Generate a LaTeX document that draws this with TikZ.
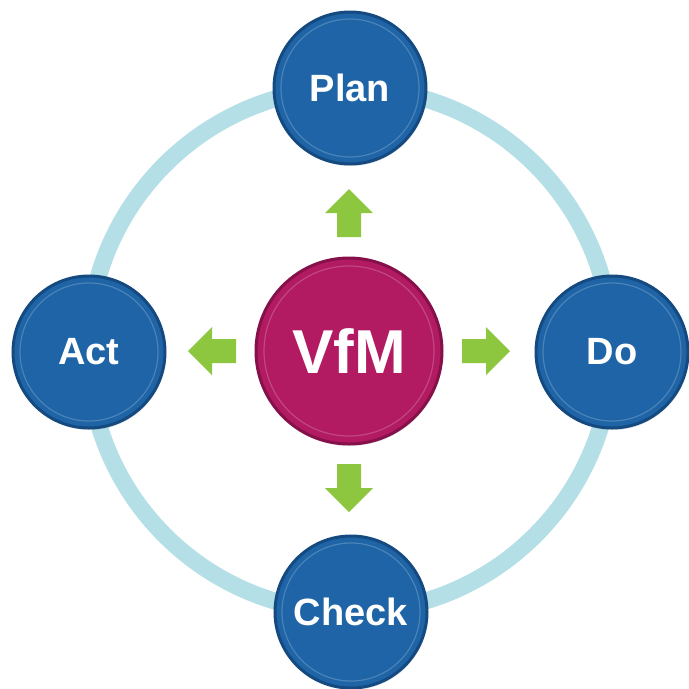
\documentclass[tikz,border=0pt]{standalone}
\usepackage{fontspec}
\setmainfont{Liberation Sans}
\usetikzlibrary{shadows}

\definecolor{ringblue}{HTML}{B5DFE6}
\definecolor{stepblue}{HTML}{1E64A6}
\definecolor{stepedge}{HTML}{154A80}
\definecolor{vfmred}{HTML}{B21A62}
\definecolor{vfmedge}{HTML}{86104A}
\definecolor{arrowgreen}{HTML}{8DC63F}

\tikzset{
  phase/.style={circle, fill=stepblue, draw=stepedge, line width=3pt,
    minimum size=152pt, inner sep=0pt, text=white,
    drop shadow={opacity=.2, shadow xshift=1pt, shadow yshift=-2pt},
    font=\bfseries\fontsize{38}{38}\selectfont},
  hub/.style={phase, fill=vfmred, draw=vfmedge, minimum size=186pt,
    font=\bfseries\fontsize{62}{62}\selectfont},
  rim/.style={white, opacity=.2, line width=1.2pt},
  blockarrow/.style={fill=arrowgreen}
}

\begin{document}
\begin{tikzpicture}[x=1pt, y=-1pt]
\useasboundingbox (0,0) rectangle (689,689);
% Ring joining the four steps
\draw[ringblue, line width=17pt] (350,350) circle (262);
% Centre and the four steps
\node[hub] (vfm) at (349,351) {VfM};
\node[phase] (plan) at (350,88) {Plan};
\node[phase] (do) at (612,352) {Do};
\node[phase] (check) at (351,612) {Check};
\node[phase] (act) at (89,352) {Act};
% Inner highlight on each disc
\foreach \n in {plan,do,check,act}
  \draw[rim] (\n.center) circle (69);
\draw[rim] (vfm.center) circle (85);
% Green arrows, pointing out of the centre
\foreach \a/\x/\y in {90/349/213, 0/486/351, -90/349/488, 180/212/351} {
  \begin{scope}[shift={(\x,\y)}, rotate=\a]
    \fill[blockarrow] (-24,-12) -- (0,-12) -- (0,-24) -- (24,0)
      -- (0,24) -- (0,12) -- (-24,12) -- cycle;
  \end{scope}
}
\end{tikzpicture}
\end{document}
